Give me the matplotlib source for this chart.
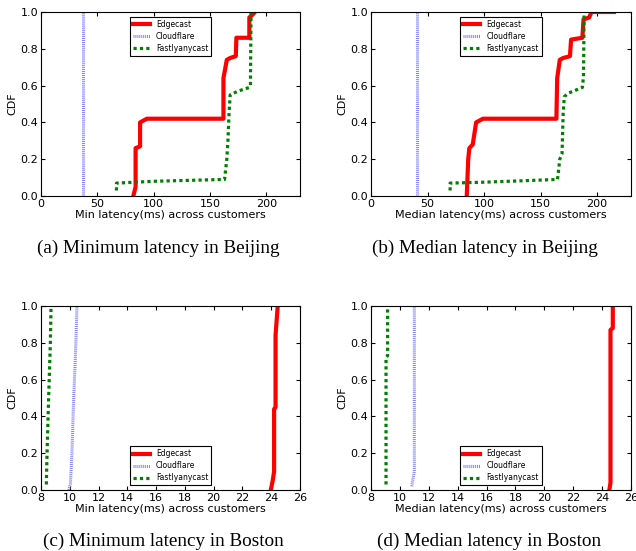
import matplotlib
matplotlib.use("Agg")
import matplotlib.pyplot as plt

# ---- data ----
# Beijing, min latency
bj_min_edge_x = [82, 84, 84, 88, 88, 91, 94, 162, 162, 165, 168, 173, 173.5, 185, 185, 187, 190]
bj_min_edge_y = [0.0, 0.05, 0.26, 0.27, 0.40, 0.41, 0.42, 0.42, 0.64, 0.74, 0.75, 0.76, 0.86, 0.86, 0.97, 0.98, 1.0]
bj_min_cloud_x = [37.5, 37.5]
bj_min_cloud_y = [0.0, 1.0]
bj_min_fastly_x = [67, 67, 100, 163, 165, 166, 167, 168, 175, 185, 186, 186.5]
bj_min_fastly_y = [0.03, 0.07, 0.08, 0.09, 0.2, 0.3, 0.45, 0.55, 0.57, 0.59, 0.6, 1.0]

# Beijing, median latency
bj_med_edge_x = [84.7, 86, 87, 90, 92, 93, 96, 99, 164, 164.7, 167, 170, 176, 177, 187, 188, 193, 195, 215]
bj_med_edge_y = [0.0, 0.2, 0.26, 0.28, 0.36, 0.40, 0.41, 0.42, 0.42, 0.64, 0.74, 0.75, 0.76, 0.85, 0.86, 0.96, 0.97, 1.0, 1.0]
bj_med_cloud_x = [40.3, 40.3]
bj_med_cloud_y = [0.0, 1.0]
bj_med_fastly_x = [70, 70, 100, 165, 167, 169, 170, 171, 175, 187, 188, 188.5]
bj_med_fastly_y = [0.03, 0.07, 0.075, 0.09, 0.2, 0.23, 0.45, 0.54, 0.56, 0.59, 0.65, 1.0]

# Boston, min latency
bo_min_edge_x = [23.97, 24.1, 24.2, 24.2, 24.3, 24.3, 24.45]
bo_min_edge_y = [0.0, 0.05, 0.1, 0.44, 0.45, 0.84, 1.0]
bo_min_cloud_x = [9.92, 10.04, 10.15, 10.27, 10.38, 10.5]
bo_min_cloud_y = [0.0, 0.03, 0.2, 0.5, 0.7, 1.0]
bo_min_fastly_x = [8.37, 8.42, 8.53, 8.65, 8.7]
bo_min_fastly_y = [0.03, 0.2, 0.5, 0.8, 1.0]

# Boston, median latency
bo_med_edge_x = [24.5, 24.58, 24.58, 24.74, 24.74]
bo_med_edge_y = [0.0, 0.04, 0.87, 0.88, 1.0]
bo_med_cloud_x = [10.82, 10.9, 11.0, 11.0]
bo_med_cloud_y = [0.02, 0.06, 0.1, 1.0]
bo_med_fastly_x = [9.04, 9.04, 9.15, 9.15]
bo_med_fastly_y = [0.03, 0.72, 0.73, 1.0]

labels = ["Edgecast", "Cloudflare", "Fastlyanycast"]
captions = ["(a) Minimum latency in Beijing", "(b) Median latency in Beijing",
            "(c) Minimum latency in Boston", "(d) Median latency in Boston"]
xlabels = ["Min latency(ms) across customers", "Median latency(ms) across customers",
           "Min latency(ms) across customers", "Median latency(ms) across customers"]

panels = [
    (bj_min_edge_x, bj_min_edge_y, bj_min_cloud_x, bj_min_cloud_y, bj_min_fastly_x, bj_min_fastly_y),
    (bj_med_edge_x, bj_med_edge_y, bj_med_cloud_x, bj_med_cloud_y, bj_med_fastly_x, bj_med_fastly_y),
    (bo_min_edge_x, bo_min_edge_y, bo_min_cloud_x, bo_min_cloud_y, bo_min_fastly_x, bo_min_fastly_y),
    (bo_med_edge_x, bo_med_edge_y, bo_med_cloud_x, bo_med_cloud_y, bo_med_fastly_x, bo_med_fastly_y),
]

# dash lengths given in points, not scaled by line width
plt.rcParams["lines.scale_dashes"] = False

W, H = 636, 551
fig = plt.figure(figsize=(W / 100, H / 100), dpi=100)

# axes boxes in pixels: left, top, right, bottom
boxes = [(41, 12, 300, 196), (371, 12, 631, 196), (41, 306, 300, 490), (371, 306, 631, 490)]
caption_pos = [(158, 248), (485, 248), (163, 541), (489, 541)]

for i, (ex, ey, cx, cy, fx, fy) in enumerate(panels):
    l, t, r, b = boxes[i]
    ax = fig.add_axes([l / W, 1 - b / H, (r - l) / W, (b - t) / H])
    ax.plot(ex, ey, color="red", lw=3, label=labels[0])
    ax.plot(cx, cy, color="#8080ff", lw=2.2, ls=(0, (0.7, 0.7)), label=labels[1])
    ax.plot(fx, fy, color="green", lw=2.3, ls=(0, (2.3, 2.3)), label=labels[2])
    if i < 2:
        ax.set_xlim(0, 230)
        ax.set_xticks([0, 50, 100, 150, 200])
        loc = "upper center"
    else:
        ax.set_xlim(8, 26)
        ax.set_xticks(range(8, 27, 2))
        loc = "lower center"
    ax.set_ylim(0, 1.0)
    ax.set_yticks([0.0, 0.2, 0.4, 0.6, 0.8, 1.0])
    ax.tick_params(direction="in", top=True, right=True, labelsize=8, length=3, pad=2)
    ax.set_xlabel(xlabels[i], fontsize=8, labelpad=1)
    ax.set_ylabel("CDF", fontsize=8, labelpad=2)
    leg = ax.legend(loc=loc, fontsize=5.5, fancybox=False, framealpha=1,
                    edgecolor="black", handlelength=2.2, borderaxespad=0.6,
                    labelspacing=0.4)
    leg.get_frame().set_linewidth(0.8)
    fig.text(caption_pos[i][0] / W, 1 - caption_pos[i][1] / H, captions[i],
             ha="center", va="center", family="Liberation Serif", fontsize=13.8)

fig.savefig("out.png", dpi=100)
